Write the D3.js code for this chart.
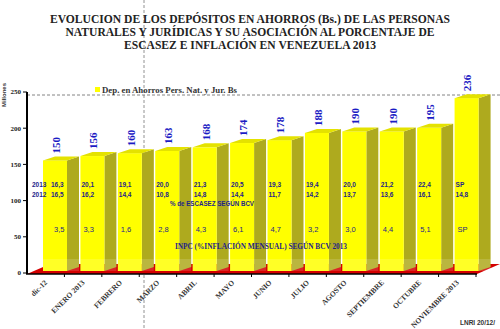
<!DOCTYPE html>
<html><head><meta charset="utf-8">
<script src="https://cdn.jsdelivr.net/npm/d3@7"></script>
<style>body{margin:0;background:#fff;}svg{display:block;}</style>
</head><body>
<svg id="c" width="500" height="329"></svg>
<script>
const categories = ["dic-12","ENERO 2013","FEBRERO","MARZO","ABRIL","MAYO","JUNIO","JULIO","AGOSTO","SEPTIEMBRE","OCTUBRE","NOVIEMBRE  2013"];
const deposits = [150,156,160,163,168,174,178,188,190,190,195,236];
const escasez2013 = [16.3,20.1,19.1,20.0,21.3,20.5,19.3,19.4,20.0,21.2,22.4,null];
const escasez2012 = [16.5,16.2,14.4,10.8,14.8,14.4,11.7,14.2,13.7,13.6,16.1,14.8];
const inpc = [3.5,3.3,1.6,2.8,4.3,6.1,4.7,3.2,3.0,4.4,5.1,null];
const yTicks = [0,50,100,150,200,250];
const titleLines = ["EVOLUCION DE LOS DEPÓSITOS EN AHORROS (Bs.) DE LAS PERSONAS","NATURALES Y JURÍDICAS  Y SU ASOCIACIÓN AL PORCENTAJE DE","ESCASEZ E INFLACIÓN EN VENEZUELA 2013"];
const legendLabel = "Dep. en Ahorros Pers. Nat. y Jur. Bs";

const svg = d3.select("#c");
const fmt = v => v == null ? "SP" : d3.format(".1f")(v).replace(".", ",");

const x = d3.scaleBand().domain(categories).range([27, 476]).padding(0);
const y = d3.scaleLinear().domain([0, 250]).range([273, 92]);

// dashed vertical guide visible in the reference picture
svg.append("line").attr("x1",144).attr("x2",144).attr("y1",0).attr("y2",329)
  .attr("stroke","#777").attr("stroke-width",0.8).attr("stroke-dasharray","3,2");

// title
const tw = [400, 369, 252];
svg.selectAll("text.title").data(titleLines).join("text")
  .attr("class","title")
  .attr("x",250).attr("y",(d,i)=>23+i*13)
  .attr("text-anchor","middle")
  .attr("font-family","Liberation Serif, serif").attr("font-weight","bold")
  .attr("font-size",12).attr("fill","#222")
  .attr("textLength",(d,i)=>tw[i]).attr("lengthAdjust","spacingAndGlyphs")
  .text(d=>d);

// gridline at top
svg.append("line").attr("x1",27).attr("x2",500).attr("y1",y(250)+3).attr("y2",y(250)+3)
  .attr("stroke","#666").attr("stroke-width",0.8).attr("stroke-dasharray","3,2");

// floor
const y0 = y(0)+1;
svg.append("polygon")
  .attr("points",[[27,y0],[477,y0],[500,y0-10],[50,y0-10]].map(p=>p.join(",")).join(" "))
  .attr("fill","#d40000");

// bars
const bw = 24, dx = 12, dy = 4, off = 4;
const g = svg.append("g");
categories.forEach((c,i)=>{
  const x0 = x(c)+16, yt = y(deposits[i])-off, yb = y(0)-2;
  g.append("polygon").attr("points",[[x0+bw,yt],[x0+bw+dx,yt-dy],[x0+bw+dx,yb-dy],[x0+bw,yb]].map(p=>p.join(",")).join(" "))
    .attr("fill","#aeaa1e");
  g.append("rect").attr("x",x0).attr("y",yt).attr("width",bw).attr("height",yb-yt).attr("fill","#ffff00");
  g.append("polygon").attr("points",[[x0,yt],[x0+dx,yt-dy],[x0+bw+dx,yt-dy],[x0+bw,yt]].map(p=>p.join(",")).join(" "))
    .attr("fill","#e4e200");
  g.append("rect").attr("x",x0).attr("y",yb-12).attr("width",bw+dx).attr("height",12).attr("fill","#fff").attr("opacity",0.15);
  g.append("text")
    .attr("transform",`translate(${x0+bw/2+1},${yt-7}) rotate(-90)`)
    .attr("dy","0.35em")
    .attr("font-family","Liberation Serif, serif").attr("font-weight","bold")
    .attr("font-size",11).attr("fill","#1c1cc4")
    .text(deposits[i]);
});

// axes
svg.append("line").attr("x1",27).attr("x2",27).attr("y1",y(250)).attr("y2",y(0)+1)
  .attr("stroke","#000").attr("stroke-width",2);
svg.append("line").attr("x1",26).attr("x2",477).attr("y1",y(0)+1).attr("y2",y(0)+1)
  .attr("stroke","#000").attr("stroke-width",1.5);
svg.selectAll("line.yt").data(yTicks).join("line").attr("class","yt")
  .attr("x1",23).attr("x2",27).attr("y1",d=>y(d)).attr("y2",d=>y(d)).attr("stroke","#000");
svg.selectAll("text.yl").data(yTicks).join("text").attr("class","yl")
  .attr("x",21).attr("y",d=>y(d)).attr("dy","0.35em").attr("text-anchor","end")
  .attr("font-family","Liberation Serif, serif").attr("font-weight","bold").attr("font-size",7).attr("fill","#222")
  .text(d=>d);
const xt = categories.map(c=>x(c)+x.bandwidth());
svg.selectAll("line.xt").data(xt).join("line").attr("class","xt")
  .attr("x1",d=>d).attr("x2",d=>d).attr("y1",y(0)+1).attr("y2",y(0)+4).attr("stroke","#000");
svg.selectAll("text.xl").data(categories).join("text").attr("class","xl")
  .attr("transform",c=>`translate(${x(c)+x.bandwidth()/2+2},${283}) rotate(-45)`)
  .attr("text-anchor","end")
  .attr("font-family","Liberation Serif, serif").attr("font-weight","bold").attr("font-size",7.5).attr("fill","#333")
  .text(d=>d);

svg.append("text").attr("transform","translate(6,95) rotate(-90)").attr("text-anchor","middle")
  .attr("font-family","Liberation Sans, sans-serif").attr("font-weight","bold").attr("font-size",6).attr("fill","#333")
  .text("Millones");

// legend
svg.append("rect").attr("x",95).attr("y",87).attr("width",5).attr("height",5).attr("fill","#ffff00");
svg.append("text").attr("x",102).attr("y",93)
  .attr("font-family","Liberation Serif, serif").attr("font-weight","bold").attr("font-size",9).attr("fill","#333")
  .attr("textLength",135).attr("lengthAdjust","spacingAndGlyphs")
  .text(legendLabel);

// table texts
const tf = "Liberation Sans, sans-serif", tc = "#1e1e8a";
const lx = (c,i) => x(c) + (i===0 ? 24 : 17);
svg.append("text").attr("x",32).attr("y",187).attr("font-family",tf).attr("font-weight","bold").attr("font-size",6.5).attr("fill",tc).text("2013");
svg.append("text").attr("x",32).attr("y",197).attr("font-family",tf).attr("font-weight","bold").attr("font-size",6.5).attr("fill",tc).text("2012");
svg.selectAll("text.e13").data(categories).join("text").attr("class","e13")
  .attr("x",(c,i)=>lx(c,i)).attr("y",187)
  .attr("font-family",tf).attr("font-weight","bold").attr("font-size",6.5).attr("fill",tc)
  .text((c,i)=>fmt(escasez2013[i]));
svg.selectAll("text.e12").data(categories).join("text").attr("class","e12")
  .attr("x",(c,i)=>lx(c,i)).attr("y",197)
  .attr("font-family",tf).attr("font-weight","bold").attr("font-size",6.5).attr("fill",tc)
  .text((c,i)=>fmt(escasez2012[i]));
svg.append("text").attr("x",170).attr("y",206)
  .attr("font-family",tf).attr("font-weight","bold").attr("font-size",7).attr("fill",tc)
  .attr("textLength",84).attr("lengthAdjust","spacingAndGlyphs")
  .text("% de ESCASEZ SEGÚN BCV");
svg.selectAll("text.inpc").data(categories).join("text").attr("class","inpc")
  .attr("x",(c,i)=>x(c) + (i===0 ? 27 : 19)).attr("y",232)
  .attr("font-family",tf).attr("font-size",7.5).attr("fill",tc)
  .text((c,i)=>fmt(inpc[i]));
svg.append("text").attr("x",175).attr("y",249)
  .attr("font-family","Liberation Serif, serif").attr("font-weight","bold").attr("font-size",8).attr("fill",tc)
  .attr("textLength",172).attr("lengthAdjust","spacingAndGlyphs")
  .text("INPC (%INFLACIÓN MENSUAL) SEGÚN BCV 2013");

svg.append("text").attr("x",460).attr("y",325)
  .attr("font-family",tf).attr("font-weight","bold").attr("font-size",6.5).attr("fill","#333")
  .text("LNRI 20/12/");
</script>
</body></html>
